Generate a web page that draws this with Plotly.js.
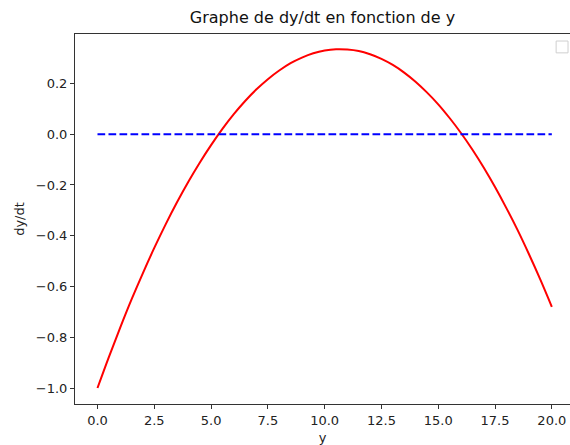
<!DOCTYPE html>
<html>
<head>
<meta charset="utf-8">
<script src="https://cdn.plot.ly/plotly-3.0.1.min.js"></script>
<style>html,body{margin:0;padding:0;background:#fff;}#chart{width:570px;height:445px;}</style>
</head>
<body>
<div id="chart"></div>
<script>
// values
const yValues = [0,0.5,1,1.5,2,2.5,3,3.5,4,4.5,5,5.5,6,6.5,7,7.5,8,8.5,9,9.5,10,10.5,11,11.5,12,12.5,13,13.5,14,14.5,15,15.5,16,16.5,17,17.5,18,18.5,19,19.5,20];
const dydtValues = [-1.000,-0.878,-0.762,-0.651,-0.547,-0.448,-0.355,-0.268,-0.187,-0.112,-0.043,0.021,0.079,0.131,0.177,0.217,0.251,0.280,0.302,0.319,0.330,0.335,0.334,0.328,0.315,0.297,0.273,0.243,0.207,0.165,0.118,0.064,0.005,-0.060,-0.131,-0.208,-0.291,-0.379,-0.474,-0.574,-0.680];
const zeroX = [0, 20];
const zeroY = [0, 0];
const xTicks = [0, 2.5, 5, 7.5, 10, 12.5, 15, 17.5, 20];
const xTickText = ["0.0","2.5","5.0","7.5","10.0","12.5","15.0","17.5","20.0"];
const yTicks = [-1.0, -0.8, -0.6, -0.4, -0.2, 0.0, 0.2];
const yTickText = ["\u22121.0","\u22120.8","\u22120.6","\u22120.4","\u22120.2","0.0","0.2"];

const font = {family: "DejaVu Sans", size: 13, color: "#222"};

const traces = [
  {x: yValues, y: dydtValues, mode: "lines", line: {color: "red", width: 2, shape: "spline"}, showlegend: false, hoverinfo: "skip"},
  {x: zeroX, y: zeroY, mode: "lines", line: {color: "blue", width: 2, dash: "7.7px,3.3px"}, showlegend: false, hoverinfo: "skip"}
];

const layout = {
  width: 570, height: 445,
  margin: {l: 75, r: 0, t: 34, b: 41, pad: 0},
  paper_bgcolor: "#fff", plot_bgcolor: "#fff",
  font: font,
  showlegend: false,
  title: {text: "Graphe de dy/dt en fonction de y", font: {family: "DejaVu Sans", size: 16, color: "#111"}, x: 0.5, xanchor: "center", y: 0.96, yanchor: "middle", xref: "paper"},
  xaxis: {
    range: [-0.99, 20.8], showgrid: false, zeroline: false,
    showline: true, linecolor: "#333", linewidth: 1, mirror: true,
    ticks: "outside", ticklen: 4, tickwidth: 1, tickcolor: "#333",
    tickvals: xTicks, ticktext: xTickText, tickfont: font,
    title: {text: "y", font: font, standoff: 6}
  },
  yaxis: {
    range: [-1.063, 0.395], showgrid: false, zeroline: false,
    showline: true, linecolor: "#333", linewidth: 1,
    ticks: "outside", ticklen: 4, tickwidth: 1, tickcolor: "#333",
    tickvals: yTicks, ticktext: yTickText, tickfont: font,
    title: {text: "dy/dt", font: font, standoff: 8}
  },
  shapes: [
    {type: "rect", xref: "paper", yref: "paper", x0: 0.972, x1: 0.996, y0: 0.949, y1: 0.981,
     line: {color: "#cfcfcf", width: 1}, fillcolor: "#fff"}
  ]
};

Plotly.newPlot("chart", traces, layout, {staticPlot: true, displayModeBar: false});
</script>
</body>
</html>
